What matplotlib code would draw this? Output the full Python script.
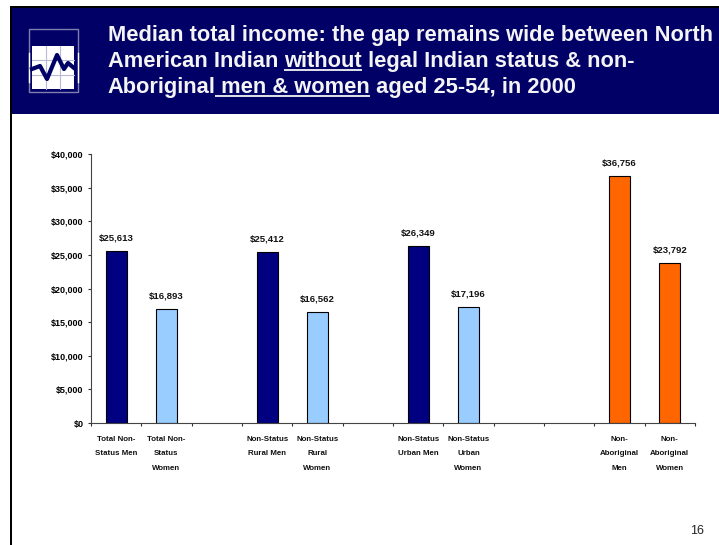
import matplotlib
matplotlib.use("Agg")
import matplotlib.pyplot as plt
from matplotlib.patches import Rectangle

W, H = 719, 545
NARROW = ["Liberation Sans Narrow", "Liberation Sans", "DejaVu Sans"]
SANS = ["Liberation Sans", "DejaVu Sans"]

labels = ["Total Non-\nStatus Men", "Total Non-\nStatus\nWomen", "",
          "Non-Status\nRural Men", "Non-Status\nRural\nWomen", "",
          "Non-Status\nUrban Men", "Non-Status\nUrban\nWomen", "", "",
          "Non-\nAboriginal\nMen", "Non-\nAboriginal\nWomen"]
values = [25613, 16893, None, 25412, 16562, None, 26349, 17196, None, None, 36756, 23792]
colors = ["#000080", "#99ccff", "w", "#000080", "#99ccff", "w",
          "#000080", "#99ccff", "w", "w", "#ff6600", "#ff6600"]
yticks = [0, 5000, 10000, 15000, 20000, 25000, 30000, 35000, 40000]

fig = plt.figure(figsize=(W/100, H/100), dpi=100, facecolor="w")

# slide furniture in pixel coordinates
bg = fig.add_axes([0, 0, 1, 1])
bg.set_xlim(0, W); bg.set_ylim(H, 0); bg.axis("off")
bg.add_patch(Rectangle((10, 6), W-10, 108, fc="#000066", ec="none"))
bg.add_patch(Rectangle((10, 6), W-10, 1.5, fc="k", ec="none"))
bg.add_patch(Rectangle((10, 6), 2, H-6, fc="k", ec="none"))

# logo
bg.add_patch(Rectangle((28.5, 29), 49, 63, fc="none", ec="#8080b0", lw=1))
bg.add_patch(Rectangle((32, 46), 42, 43, fc="w", ec="none"))
for x in (46, 60):
    bg.plot([x, x], [46, 89], color="#b8b8d8", lw=0.8)
for y in (60, 75):
    bg.plot([32, 74], [y, y], color="#b8b8d8", lw=0.8)
bg.plot([28.5, 28.5], [53, 82], color="w", lw=1)
bg.plot([77.5, 77.5], [53, 82], color="w", lw=1)
bg.plot([32, 40, 47, 57, 64, 68, 74], [69, 66, 79, 55, 69, 63, 68], color="#000066", lw=3)

# title, underlined runs are measured so the rule sits under the right words
title_lines = [[("Median total income: the gap remains wide between North", False)],
               [("American Indian ", False), ("without", True), (" legal Indian status & non-", False)],
               [("Aboriginal", False), (" men & women", True), (" aged 25-54, in 2000", False)]]
baselines = [41, 67, 93]
TITLE_SIZE = 15.75
r = fig.canvas.get_renderer()
for runs, yb in zip(title_lines, baselines):
    x = 107.5
    for s, under in runs:
        t = bg.text(x, yb, s, color="#f4f4f4", fontsize=TITLE_SIZE, fontweight="bold", family=SANS, va="baseline", ha="left")
        # trailing/leading spaces: measure with a guard character
        g = bg.text(0, 0, "|" + s + "|", fontsize=TITLE_SIZE, fontweight="bold", family=SANS)
        g2 = bg.text(0, 0, "||", fontsize=TITLE_SIZE, fontweight="bold", family=SANS)
        w = g.get_window_extent(r).width - g2.get_window_extent(r).width
        g.remove(); g2.remove()
        if under:
            bg.plot([x, x+w], [yb+2.5, yb+2.5], color="#f4f4f4", lw=1.3, solid_capstyle="butt")
        x += w

bg.text(697, 534, "16", fontsize=9, family=SANS, color="#222222", ha="center", va="baseline")

# chart
ax = fig.add_axes([91/W, 1-423/H, 604/W, 269/H])
ax.patch.set_alpha(0)
for i, (v, c) in enumerate(zip(values, colors)):
    if v is None:
        continue
    ax.bar(i+0.5, v, width=0.42, color=c, edgecolor="k", linewidth=0.8)
    ax.text(i+0.5, v+1250, f"${v:,}", ha="center", va="bottom", fontsize=6.8,
            fontweight="bold", family=NARROW, color="#111111")

ax.set_xlim(0, 12); ax.set_ylim(0, 40000)
ax.set_yticks(yticks)
ax.set_yticklabels([f"${v:,}" for v in yticks], fontsize=6.5, fontweight="bold", family=NARROW)
ax.set_xticks(range(13))
ax.set_xticklabels([])
ax.tick_params(axis="both", length=2.5, width=0.8, color="#333333", pad=3)
for s in ("top", "right"):
    ax.spines[s].set_visible(False)
for s in ("left", "bottom"):
    ax.spines[s].set_color("#444444"); ax.spines[s].set_linewidth(0.8)

for i, lab in enumerate(labels):
    if lab:
        ax.annotate(lab, (i+0.5, 0), xycoords="data", xytext=(0, -9.5), textcoords="offset points",
                    ha="center", va="top", fontsize=5.7, fontweight="bold", family=NARROW,
                    color="#111111", linespacing=2.45)

fig.savefig("out.png", dpi=100)
